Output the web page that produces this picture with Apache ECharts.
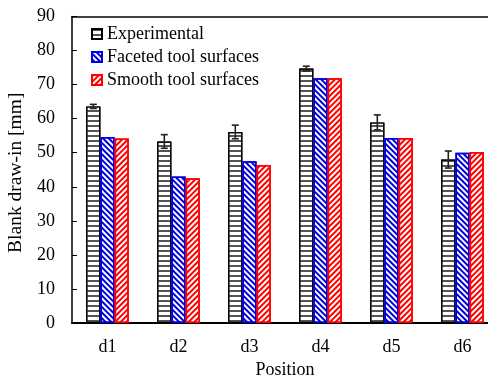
<!DOCTYPE html>
<html>
<head>
<meta charset="utf-8">
<script src="https://cdn.jsdelivr.net/npm/echarts@6/dist/echarts.min.js"></script>
<style>
  html, body { margin: 0; padding: 0; background: #fff; }
  #chart { width: 488px; height: 380px; }
</style>
</head>
<body>
<div id="chart"></div>
<script>
  // data
  var positions = ['d1', 'd2', 'd3', 'd4', 'd5', 'd6']
  var experimental = [63.6, 53.3, 56.1, 74.7, 58.9, 48.0]
  var experimentalErr = [0.6, 2.0, 2.0, 0.7, 2.2, 2.5]
  var faceted = [54.6, 43.0, 47.5, 71.9, 54.3, 50.0]
  var smooth = [54.2, 42.5, 46.4, 71.9, 54.3, 50.2]
  var yTicks = [0, 10, 20, 30, 40, 50, 60, 70, 80, 90]

  var font = 'Liberation Serif'
  var fs = 18
  var chart = echarts.init(document.getElementById('chart'))

  // error bars sit on the first bar of each group
  var errData = experimental.map(function (v, i) {
    return [i, v - experimentalErr[i], v + experimentalErr[i]]
  })

  chart.setOption({
    animation: false,
    textStyle: { fontFamily: font, color: '#000' },
    grid: { left: 72, right: -10, top: 16.5, bottom: 57, outerBoundsMode: 'none' },
    legend: {
      orient: 'vertical',
      left: 86,
      top: 20,
      icon: 'rect',
      itemWidth: 10,
      itemHeight: 10,
      itemGap: 5,
      textStyle: { fontFamily: font, fontSize: fs, color: '#000' },
      data: ['Experimental', 'Faceted tool surfaces', 'Smooth tool surfaces']
    },
    xAxis: [{
      type: 'category',
      data: positions,
      name: 'Position',
      nameLocation: 'middle',
      nameGap: 38,
      nameTextStyle: { fontFamily: font, fontSize: fs, color: '#000' },
      axisLine: { lineStyle: { color: '#000', width: 2 } },
      axisTick: { inside: true, length: 5, lineStyle: { color: '#000' } },
      axisLabel: { fontFamily: font, fontSize: fs, color: '#000', margin: 15 }
    }, {
      type: 'category',
      data: positions,
      position: 'top',
      axisLine: { lineStyle: { color: '#000', width: 1.5 } },
      axisTick: { show: false },
      axisLabel: { show: false }
    }],
    yAxis: {
      type: 'value',
      min: yTicks[0],
      max: yTicks[yTicks.length - 1],
      interval: 10,
      name: 'Blank draw-in [mm]',
      nameLocation: 'middle',
      nameGap: 42,
      nameTextStyle: { fontFamily: font, fontSize: 19.5, color: '#000', padding: [0, 6, 0, 0] },
      axisLine: { show: true, lineStyle: { color: '#000', width: 1.5 } },
      axisTick: { show: true, inside: true, length: 5, lineStyle: { color: '#000' } },
      axisLabel: { fontFamily: font, fontSize: fs, color: '#000', margin: 17 },
      splitLine: { show: false }
    },
    series: [{
      name: 'Experimental',
      type: 'bar',
      barWidth: '20%',
      barGap: '0%',
      data: experimental,
      itemStyle: {
        color: '#fff',
        borderColor: '#000',
        borderWidth: 1.2,
        decal: {
          symbol: 'rect',
          color: '#555',
          dashArrayX: [1, 0],
          dashArrayY: [1.5, 2.5],
          rotation: 0
        }
      }
    }, {
      name: 'Faceted tool surfaces',
      type: 'bar',
      barWidth: '20%',
      barGap: '0%',
      data: faceted,
      itemStyle: {
        color: '#fff',
        borderColor: '#0000e0',
        borderWidth: 1.5,
        decal: {
          symbol: 'rect',
          color: '#0000e0',
          dashArrayX: [1, 0],
          dashArrayY: [1.5, 2],
          rotation: Math.PI / 4
        }
      }
    }, {
      name: 'Smooth tool surfaces',
      type: 'bar',
      barWidth: '20%',
      barGap: '0%',
      data: smooth,
      itemStyle: {
        color: '#fff',
        borderColor: '#ff0000',
        borderWidth: 1.5,
        decal: {
          symbol: 'rect',
          color: '#ff0000',
          dashArrayX: [1, 0],
          dashArrayY: [1.5, 2],
          rotation: -Math.PI / 4
        }
      }
    }, {
      type: 'custom',
      data: errData,
      z: 10,
      silent: true,
      renderItem: function (params, api) {
        var band = api.size([1, 0])[0]
        var lo = api.coord([api.value(0), api.value(1)])
        var hi = api.coord([api.value(0), api.value(2)])
        var x = lo[0] - band * 0.2
        var cap = 3.5
        var style = { stroke: '#222', lineWidth: 1.6 }
        return {
          type: 'group',
          children: [
            { type: 'line', shape: { x1: x, y1: lo[1], x2: x, y2: hi[1] }, style: style },
            { type: 'line', shape: { x1: x - cap, y1: hi[1], x2: x + cap, y2: hi[1] }, style: style },
            { type: 'line', shape: { x1: x - cap, y1: lo[1], x2: x + cap, y2: lo[1] }, style: style }
          ]
        }
      }
    }]
  })
</script>
</body>
</html>
